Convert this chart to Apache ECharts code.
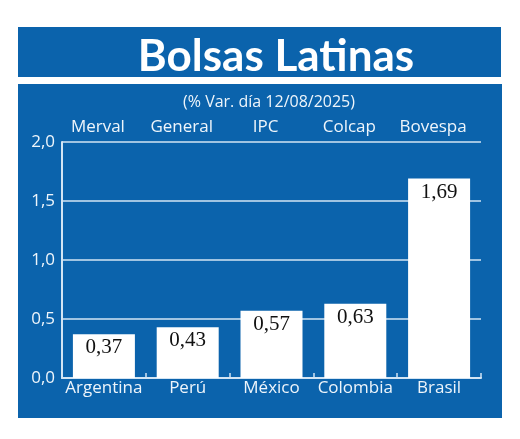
<!DOCTYPE html>
<html>
<head>
<meta charset="utf-8">
<script src="https://cdn.jsdelivr.net/npm/echarts@6/dist/echarts.min.js"></script>
<style>
  html, body { margin: 0; padding: 0; background: #fff; }
  #chart { width: 520px; height: 439px; }
</style>
</head>
<body>
<div id="chart"></div>
<script>
// datos
var paises = ["Argentina", "Perú", "México", "Colombia", "Brasil"];
var indices = ["Merval", "General", "IPC", "Colcap", "Bovespa"];
var variacion = [0.37, 0.43, 0.57, 0.63, 1.69];
var yMin = 0, yMax = 2, yPaso = 0.5;

var azul = "#0b63ac";
var linea = "#d3e5f4";
var texto = "#eef5fb";

function coma(v, d) {
  return v.toFixed(d).replace(".", ",");
}

var chart = echarts.init(document.getElementById("chart"));
chart.setOption({
  animation: false,
  backgroundColor: "#fff",
  // cajas azules de fondo
  graphic: [
    { type: "rect", z: -10, shape: { x: 18, y: 27, width: 483, height: 50 }, style: { fill: azul } },
    { type: "rect", z: -10, shape: { x: 18, y: 84, width: 484, height: 334 }, style: { fill: azul } }
  ],
  title: [
    {
      text: "Bolsas Latinas",
      left: 271, top: 27, textAlign: "center",
      textStyle: { color: "#fff", fontFamily: "Lato", fontWeight: "bold", fontSize: 44, lineHeight: 50 }
    },
    {
      text: "(% Var. día 12/08/2025)",
      left: 264, top: 87, textAlign: "center",
      textStyle: { color: texto, fontFamily: "Open Sans", fontWeight: "normal", fontSize: 16, lineHeight: 20 }
    }
  ],
  grid: { left: 62, right: 39, top: 142, bottom: 61 },
  xAxis: [
    {
      type: "category",
      data: paises,
      position: "bottom",
      axisLine: { lineStyle: { color: linea, width: 2 } },
      axisTick: { show: true, inside: true, length: 5, lineStyle: { color: linea, width: 1.5 } },
      axisLabel: { interval: 0, color: texto, fontFamily: "Open Sans", fontSize: 17, margin: 2 }
    },
    {
      type: "category",
      data: indices,
      position: "top",
      axisLine: { show: false },
      axisTick: { show: false },
      axisLabel: { interval: 0, color: texto, fontFamily: "Open Sans", fontSize: 17, margin: 6, padding: [0, 12, 0, 0] }
    }
  ],
  yAxis: {
    type: "value",
    min: yMin, max: yMax, interval: yPaso,
    axisLine: { show: true, lineStyle: { color: linea, width: 2 } },
    axisTick: { show: false },
    splitLine: { lineStyle: { color: linea, width: 1.5 } },
    axisLabel: {
      color: texto, fontFamily: "Open Sans", fontSize: 17, margin: 7,
      formatter: function (v) { return coma(v, 1); }
    }
  },
  series: [
    {
      type: "bar",
      data: variacion,
      barWidth: 62,
      itemStyle: { color: "#fff" },
      label: {
        show: true,
        position: "insideTop",
        distance: 3,
        color: "#111",
        fontFamily: "Liberation Serif",
        fontSize: 21,
        formatter: function (p) { return coma(p.value, 2); }
      }
    }
  ]
});
</script>
</body>
</html>
